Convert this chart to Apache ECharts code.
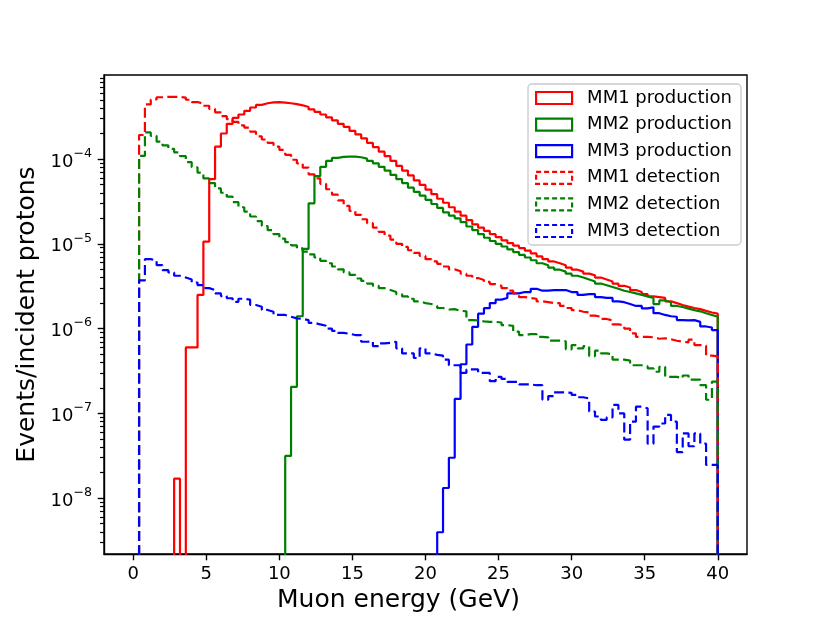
<!DOCTYPE html>
<html>
<head>
<meta charset="utf-8">
<script src="https://cdn.jsdelivr.net/npm/echarts@6/dist/echarts.min.js"></script>
<style>html,body{margin:0;padding:0;background:#fff}#chart{width:830px;height:623px}</style>
</head>
<body>
<div id="chart"></div>
<script>
// Histogram: 100 bins of 0.4 GeV from 0 to 40 GeV
const binLow = 0;
const binWidth = 0.4;
const seriesNames = ['MM1 production','MM2 production','MM3 production','MM1 detection','MM2 detection','MM3 detection'];

const mm1Production = [
  0, 0, 0, 0, 0, 0, 0, 1.7e-8, 0, 6.0e-7,
  6.0e-7, 2.5e-6, 1.06e-5, 5.8e-5, 1.4e-4, 2.0e-4, 2.6e-4, 3.05e-4, 3.35e-4, 3.7e-4,
  4.05e-4, 4.35e-4, 4.55e-4, 4.65e-4, 4.68e-4, 4.62e-4, 4.55e-4, 4.45e-4, 4.3e-4, 4.1e-4,
  3.85e-4, 3.6e-4, 3.35e-4, 3.1e-4, 2.85e-4, 2.6e-4, 2.4e-4, 2.15e-4, 1.95e-4, 1.75e-4,
  1.55e-4, 1.38e-4, 1.22e-4, 1.08e-4, 9.5e-5, 8.3e-5, 7.3e-5, 6.4e-5, 5.6e-5, 4.95e-5,
  4.35e-5, 3.85e-5, 3.4e-5, 3.05e-5, 2.7e-5, 2.4e-5, 2.15e-5, 1.9e-5, 1.7e-5, 1.55e-5,
  1.42e-5, 1.3e-5, 1.2e-5, 1.1e-5, 1.02e-5, 9.5e-6, 8.9e-6, 8.3e-6, 7.7e-6, 7.1e-6,
  6.6e-6, 6.2e-6, 5.9e-6, 5.6e-6, 5.25e-6, 4.95e-6, 4.7e-6, 4.45e-6, 4.25e-6, 4.0e-6,
  3.8e-6, 3.6e-6, 3.4e-6, 3.2e-6, 3.05e-6, 2.85e-6, 2.7e-6, 2.55e-6, 2.4e-6, 2.35e-6,
  2.3e-6, 2.1e-6, 2.0e-6, 1.9e-6, 1.82e-6, 1.75e-6, 1.7e-6, 1.62e-6, 1.55e-6, 1.5e-6
];
const mm2Production = [
  0, 0, 0, 0, 0, 0, 0, 0, 0, 0,
  0, 0, 0, 0, 0, 0, 0, 0, 0, 0,
  0, 0, 0, 0, 0, 0, 3.15e-8, 2.06e-7, 1.4e-6, 8.7e-6,
  3.0e-5, 6.3e-5, 8.1e-5, 9.5e-5, 1.03e-4, 1.06e-4, 1.07e-4, 1.07e-4, 1.05e-4, 1.01e-4,
  9.5e-5, 8.9e-5, 8.1e-5, 7.3e-5, 6.5e-5, 5.8e-5, 5.2e-5, 4.6e-5, 4.1e-5, 3.7e-5,
  3.3e-5, 2.95e-5, 2.65e-5, 2.35e-5, 2.15e-5, 2.0e-5, 1.8e-5, 1.6e-5, 1.45e-5, 1.3e-5,
  1.18e-5, 1.08e-5, 1.0e-5, 9.3e-6, 8.6e-6, 8.0e-6, 7.4e-6, 6.9e-6, 6.4e-6, 5.9e-6,
  5.6e-6, 5.25e-6, 4.95e-6, 4.7e-6, 4.45e-6, 4.2e-6, 4.0e-6, 3.8e-6, 3.6e-6, 3.4e-6,
  3.25e-6, 3.1e-6, 2.95e-6, 2.8e-6, 2.7e-6, 2.6e-6, 2.5e-6, 2.4e-6, 2.3e-6, 1.95e-6,
  2.15e-6, 2.05e-6, 1.85e-6, 1.8e-6, 1.72e-6, 1.65e-6, 1.6e-6, 1.52e-6, 1.45e-6, 1.38e-6
];
const mm3Production = [
  0, 0, 0, 0, 0, 0, 0, 0, 0, 0,
  0, 0, 0, 0, 0, 0, 0, 0, 0, 0,
  0, 0, 0, 0, 0, 0, 0, 0, 0, 0,
  0, 0, 0, 0, 0, 0, 0, 0, 0, 0,
  0, 0, 0, 0, 0, 0, 0, 0, 0, 0,
  0, 0, 3.97e-9, 1.32e-8, 3.0e-8, 1.48e-7, 3.8e-7, 6.5e-7, 1.05e-6, 1.5e-6,
  1.74e-6, 2.0e-6, 2.2e-6, 2.3e-6, 2.6e-6, 2.6e-6, 2.7e-6, 2.7e-6, 2.95e-6, 2.8e-6,
  2.8e-6, 2.85e-6, 2.85e-6, 2.85e-6, 2.7e-6, 2.7e-6, 2.5e-6, 2.55e-6, 2.55e-6, 2.35e-6,
  2.3e-6, 2.3e-6, 2.1e-6, 2.05e-6, 1.95e-6, 1.85e-6, 1.85e-6, 1.73e-6, 1.78e-6, 1.52e-6,
  1.45e-6, 1.4e-6, 1.38e-6, 1.26e-6, 1.25e-6, 1.26e-6, 1.2e-6, 1.06e-6, 1.03e-6, 9.6e-7
];
const mm1Detection = [
  0, 1.92e-4, 4.4e-4, 5.05e-4, 5.35e-4, 5.42e-4, 5.42e-4, 5.4e-4, 5.3e-4, 5.0e-4,
  4.7e-4, 4.5e-4, 4.25e-4, 3.9e-4, 3.55e-4, 3.2e-4, 2.95e-4, 2.75e-4, 2.5e-4, 2.35e-4,
  2.1e-4, 1.85e-4, 1.7e-4, 1.55e-4, 1.4e-4, 1.28e-4, 1.12e-4, 9.8e-5, 8.9e-5, 7.9e-5,
  6.6e-5, 5.9e-5, 5.1e-5, 4.4e-5, 3.8e-5, 3.25e-5, 2.8e-5, 2.45e-5, 2.2e-5, 1.95e-5,
  1.75e-5, 1.55e-5, 1.38e-5, 1.25e-5, 1.12e-5, 1.0e-5, 9.2e-6, 8.4e-6, 7.8e-6, 7.2e-6,
  6.6e-6, 6.2e-6, 5.8e-6, 5.4e-6, 5.0e-6, 4.75e-6, 4.45e-6, 4.2e-6, 3.95e-6, 3.75e-6,
  3.55e-6, 3.35e-6, 3.2e-6, 3.0e-6, 2.8e-6, 2.6e-6, 2.35e-6, 2.3e-6, 2.25e-6, 2.1e-6,
  2.05e-6, 2.0e-6, 2.0e-6, 1.85e-6, 1.75e-6, 1.65e-6, 1.58e-6, 1.55e-6, 1.42e-6, 1.38e-6,
  1.3e-6, 1.25e-6, 1.12e-6, 1.1e-6, 1.0e-6, 8.8e-7, 8.0e-7, 8.0e-7, 7.9e-7, 7.6e-7,
  7.7e-7, 7.5e-7, 7.2e-7, 7.0e-7, 6.9e-7, 7.4e-7, 6.4e-7, 6.3e-7, 4.8e-7, 4.7e-7
];
const mm2Detection = [
  0, 1.09e-4, 2.06e-4, 1.88e-4, 1.6e-4, 1.45e-4, 1.32e-4, 1.2e-4, 1.08e-4, 9.2e-5,
  8.0e-5, 6.9e-5, 5.9e-5, 5.2e-5, 4.5e-5, 4.0e-5, 3.6e-5, 3.1e-5, 2.7e-5, 2.4e-5,
  2.1e-5, 1.85e-5, 1.62e-5, 1.45e-5, 1.3e-5, 1.15e-5, 1.05e-5, 9.6e-6, 8.85e-6, 8.1e-6,
  7.5e-6, 6.9e-6, 6.3e-6, 5.9e-6, 5.4e-6, 5.0e-6, 4.6e-6, 4.3e-6, 3.9e-6, 3.65e-6,
  3.4e-6, 3.2e-6, 3.0e-6, 2.85e-6, 2.7e-6, 2.55e-6, 2.4e-6, 2.25e-6, 2.1e-6, 2.0e-6,
  1.95e-6, 1.85e-6, 1.75e-6, 1.68e-6, 1.7e-6, 1.62e-6, 1.6e-6, 1.26e-6, 1.25e-6, 1.22e-6,
  1.2e-6, 1.2e-6, 1.18e-6, 1.1e-6, 1.08e-6, 9.2e-7, 8.4e-7, 8.6e-7, 8.6e-7, 8.0e-7,
  7.9e-7, 7.2e-7, 7.2e-7, 7.1e-7, 5.7e-7, 6.4e-7, 5.85e-7, 6.2e-7, 4.75e-7, 5.5e-7,
  5.1e-7, 5.0e-7, 4.3e-7, 4.3e-7, 4.2e-7, 3.7e-7, 3.7e-7, 3.6e-7, 3.4e-7, 3.1e-7,
  3.55e-7, 2.7e-7, 2.7e-7, 2.6e-7, 2.8e-7, 2.5e-7, 2.5e-7, 2.15e-7, 1.45e-7, 2.37e-7
];
const mm3Detection = [
  0, 3.7e-6, 6.6e-6, 6.35e-6, 5.6e-6, 4.9e-6, 4.6e-6, 4.2e-6, 4.0e-6, 3.8e-6,
  3.5e-6, 3.25e-6, 3.0e-6, 2.85e-6, 2.6e-6, 2.42e-6, 2.28e-6, 2.07e-6, 2.25e-6, 2.2e-6,
  1.9e-6, 1.81e-6, 1.66e-6, 1.58e-6, 1.45e-6, 1.45e-6, 1.38e-6, 1.32e-6, 1.3e-6, 1.26e-6,
  1.17e-6, 1.12e-6, 1.08e-6, 1.0e-6, 9.4e-7, 8.9e-7, 8.7e-7, 8.4e-7, 8.4e-7, 7.0e-7,
  7.1e-7, 6.2e-7, 6.7e-7, 6.8e-7, 7.0e-7, 5.85e-7, 5.1e-7, 5.1e-7, 4.5e-7, 5.85e-7,
  5.1e-7, 4.9e-7, 4.8e-7, 4.3e-7, 3.7e-7, 3.7e-7, 3.0e-7, 3.3e-7, 3.3e-7, 3.0e-7,
  3.0e-7, 2.4e-7, 2.7e-7, 2.55e-7, 2.35e-7, 2.35e-7, 2.2e-7, 2.2e-7, 2.15e-7, 2.15e-7,
  1.45e-7, 1.6e-7, 1.77e-7, 1.77e-7, 1.75e-7, 1.65e-7, 1.55e-7, 1.5e-7, 1.05e-7, 9.2e-8,
  8.4e-8, 9.0e-8, 1.26e-7, 1.0e-7, 4.9e-8, 8.0e-8, 1.2e-7, 1.15e-7, 4.4e-8, 7.0e-8,
  7.6e-8, 9.6e-8, 8.0e-8, 3.5e-8, 5.8e-8, 4.1e-8, 5.8e-8, 4.4e-8, 2.47e-8, 2.47e-8
];

const xTickValues = [0, 5, 10, 15, 20, 25, 30, 35, 40];
const yTickExponents = [-8, -7, -6, -5, -4];
const yMinorExponentsBase = [-9, -8, -7, -6, -5, -4];
const minorMantissas = [2, 3, 4, 5, 6, 7, 8, 9];

// ---- build ----
const allSeries = [mm1Production, mm2Production, mm3Production, mm1Detection, mm2Detection, mm3Detection];
const colors = ['#ff0000', '#008000', '#0000ff', '#ff0000', '#008000', '#0000ff'];
const dashed = [false, false, false, true, true, true];
const FLOOR = -14; // log10 for empty bins (below axis, clipped)
const Y_MIN = -8.658, Y_MAX = -3.009;

const n = mm1Production.length;
const edges = [];
for (let i = 0; i <= n; i++) edges.push(+(binLow + i * binWidth).toFixed(2));

function histPoints(vals) {
  const pts = [];
  for (let i = 0; i < vals.length; i++) {
    pts.push([edges[i], vals[i] > 0 ? Math.log10(vals[i]) : FLOOR]);
  }
  const last = vals[vals.length - 1];
  pts.push([edges[vals.length], last > 0 ? Math.log10(last) : FLOOR]);
  pts.push([edges[vals.length], FLOOR]);
  return pts;
}

const minorTicks = [];
yMinorExponentsBase.forEach(e => minorMantissas.forEach(m => {
  const v = e + Math.log10(m);
  if (v > Y_MIN && v < Y_MAX) minorTicks.push(v);
}));

function expLabel(v) {
  const e = Math.round(v);
  return '{b|10}{s|' + (e < 0 ? '\u2212' + (-e) : String(e)) + '}';
}

const FONT = 'DejaVu Sans';
const chart = echarts.init(document.getElementById('chart'), null, {renderer: 'canvas'});
const option = {
  animation: false,
  backgroundColor: '#ffffff',
  textStyle: {fontFamily: FONT, color: '#000'},
  grid: {left: 104, top: 75, width: 643, height: 479, show: true, borderColor: '#000', borderWidth: 1.4, backgroundColor: 'transparent'},
  legend: {
    orient: 'vertical', left: 528, top: 84,
    padding: [5, 9, 5, 7],
    itemWidth: 36, itemHeight: 12, itemGap: 8.6,
    icon: 'rect',
    backgroundColor: 'rgba(255,255,255,0.8)', borderColor: '#cccccc', borderWidth: 1.4, borderRadius: 4,
    textStyle: {fontFamily: FONT, fontSize: 18, color: '#000', padding: [0, 0, 0, 10]},
    data: seriesNames.map((name, i) => ({
      name: name,
      itemStyle: {color: 'rgba(0,0,0,0)', borderColor: colors[i], borderWidth: 2.2, borderType: dashed[i] ? [5, 3] : 'solid'}
    })),
    selectedMode: false
  },
  xAxis: {
    type: 'value', min: -2, max: 42,
    name: 'Muon energy (GeV)', nameLocation: 'middle', nameGap: 30,
    nameTextStyle: {fontFamily: FONT, fontSize: 25, color: '#000', padding: [0, 54, 0, 0]},
    axisLine: {show: true, onZero: false, lineStyle: {color: '#000', width: 1.4}},
    axisTick: {show: true, customValues: xTickValues, length: 6.3, lineStyle: {color: '#000', width: 1.4}},
    axisLabel: {show: true, customValues: xTickValues, margin: 11, fontSize: 18, color: '#000', fontFamily: FONT},
    splitLine: {show: false}
  },
  yAxis: [{
    type: 'value', min: Y_MIN, max: Y_MAX,
    name: 'Events/incident protons', nameLocation: 'middle', nameGap: 58,
    nameTextStyle: {fontFamily: FONT, fontSize: 25, color: '#000'},
    axisLine: {show: true, onZero: false, lineStyle: {color: '#000', width: 1.4}},
    axisTick: {show: true, customValues: yTickExponents, length: 6.3, lineStyle: {color: '#000', width: 1.4}},
    axisLabel: {
      show: true, customValues: yTickExponents, margin: 12, color: '#000', fontFamily: FONT, formatter: expLabel,
      rich: {
        b: {fontSize: 18, fontFamily: FONT, color: '#000', lineHeight: 24, verticalAlign: 'bottom'},
        s: {fontSize: 12.6, fontFamily: FONT, color: '#000', lineHeight: 14, verticalAlign: 'top'}
      }
    },
    splitLine: {show: false}
  }, {
    type: 'value', min: Y_MIN, max: Y_MAX, position: 'left',
    axisLine: {show: false, onZero: false},
    axisTick: {show: true, customValues: minorTicks, length: 4, lineStyle: {color: '#000', width: 1.2}},
    axisLabel: {show: false},
    splitLine: {show: false}
  }],
  series: allSeries.map((vals, i) => ({
    name: seriesNames[i],
    type: 'line',
    step: 'end',
    data: histPoints(vals),
    showSymbol: false,
    symbol: 'none',
    clip: true,
    silent: true,
    yAxisIndex: 0,
    lineStyle: {color: colors[i], width: 2.2, type: dashed[i] ? [10, 4.3] : 'solid'},
    itemStyle: {color: colors[i]}
  }))
};
chart.setOption(option);
</script>
</body>
</html>
